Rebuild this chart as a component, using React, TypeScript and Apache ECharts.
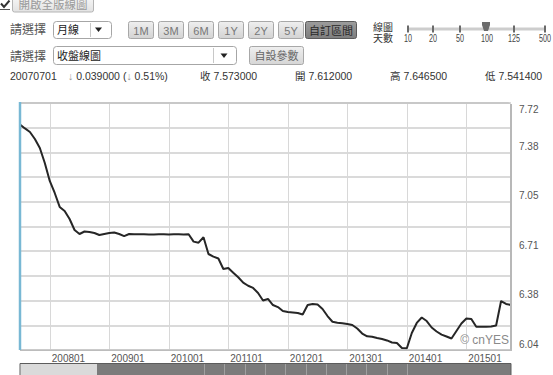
import React, { useEffect, useRef } from "react";
import * as echarts from "echarts";

const START_YEAR = 2007;
const START_MONTH = 7;
const MONTH_COUNT = 100;
const MONTHS: string[] = [];
for (let k = 0; k < MONTH_COUNT; k++) {
  const m = START_MONTH - 1 + k;
  const y = START_YEAR + Math.floor(m / 12);
  const mm = (m % 12) + 1;
  MONTHS.push(`${y}${mm < 10 ? "0" + mm : mm}`);
}

const CLOSE: number[] = [
  7.573, 7.547, 7.523, 7.475, 7.414, 7.312, 7.19, 7.108, 7.013, 6.985,
  6.931, 6.856, 6.829, 6.846, 6.843, 6.836, 6.822, 6.829, 6.836, 6.839,
  6.829, 6.815, 6.829, 6.828, 6.827, 6.827, 6.826, 6.826, 6.827, 6.827,
  6.826, 6.827, 6.827, 6.826, 6.827, 6.777, 6.77, 6.807, 6.693, 6.675,
  6.662, 6.591, 6.598, 6.566, 6.535, 6.498, 6.477, 6.462, 6.428, 6.377,
  6.387, 6.346, 6.332, 6.305, 6.298, 6.295, 6.292, 6.281, 6.346, 6.353,
  6.349, 6.319, 6.271, 6.232, 6.226, 6.222, 6.217, 6.21, 6.186, 6.152,
  6.133, 6.13, 6.122, 6.115, 6.105, 6.091, 6.088, 6.054, 6.052, 6.156,
  6.224, 6.261, 6.237, 6.193, 6.166, 6.145, 6.132, 6.118, 6.169, 6.22,
  6.254, 6.251, 6.198, 6.198, 6.198, 6.2, 6.207, 6.373, 6.353, 6.346,
];

const Y_MIN = 6.04;
const Y_MAX = 7.72;
const Y_STEP = 0.168;

const HEAD_DATE = "20070701";
const HEAD_CHANGE = "0.039000";
const HEAD_PCT = "0.51%";
const HEAD_FIELDS: string[] = ["收 7.573000", "開 7.612000", "高 7.646500", "低 7.541400"];
const RANGE_BUTTONS: string[] = ["1M", "3M", "6M", "1Y", "2Y", "5Y"];
const SLIDER_LABELS: string[] = ["10", "20", "50", "100", "125", "500"];
const SLIDER_ACTIVE = "100";

const FONT = '"Liberation Sans", "Noto Sans CJK TC", sans-serif';

function txt(x: number, y: number, text: string, size: number, fill: string, align = "left", extra: any = {}, el: any = {}) {
  return {
    type: "text",
    x,
    y,
    z: 30,
    ...el,
    style: {
      text,
      fontSize: size,
      fontFamily: FONT,
      fill,
      align,
      verticalAlign: "middle",
      textAlign: align,
      textVerticalAlign: "middle",
      ...extra,
    },
  };
}

function grad(a: string, b: string) {
  return new echarts.graphic.LinearGradient(0, 0, 0, 1, [
    { offset: 0, color: a },
    { offset: 1, color: b },
  ]);
}

function rect(x: number, y: number, w: number, h: number, fill: any, stroke: string | null, r = 2, z = 25) {
  return {
    type: "rect",
    z,
    shape: { x, y, width: w, height: h, r },
    style: { fill, stroke: stroke || undefined, lineWidth: 1 },
  };
}

function arrow(cx: number, cy: number) {
  return {
    type: "polygon",
    z: 30,
    shape: { points: [[cx - 3.5, cy - 2], [cx + 3.5, cy - 2], [cx, cy + 2.5]] },
    style: { fill: "#222" },
  };
}

function buildGraphics() {
  const g: any[] = [];
  g.push({
    type: "polyline",
    z: 30,
    shape: { points: [[1, 3.5], [4, 7], [9.5, 0.5]] },
    style: { stroke: "#333", lineWidth: 2, fill: null },
  });
  g.push({ type: "line", z: 30, shape: { x1: 0, y1: 9.5, x2: 10, y2: 9.5 }, style: { stroke: "#555", lineWidth: 1 } });
  g.push(rect(12.5, -3.5, 81, 15.5, grad("#f7f7f7", "#e2e2e2"), "#b4b4b4", 2));
  g.push(txt(53, 5, "開啟全版線圖", 11.5, "#9a9a9a", "center"));

  g.push(txt(10, 30, "請選擇", 12, "#555"));
  g.push(rect(53.5, 21.5, 58, 17, "#fff", "#a6a6a6", 3));
  g.push({ type: "line", z: 30, shape: { x1: 90.5, y1: 23, x2: 90.5, y2: 37 }, style: { stroke: "#c8c8c8" } });
  g.push(txt(57, 30, "月線", 11, "#222"));
  g.push(arrow(98.5, 29.5));
  RANGE_BUTTONS.forEach((b, k) => {
    const x = 128.5 + k * 30;
    g.push(rect(x, 21.5, 25, 17, grad("#efefef", "#d3d3d3"), "#a8a8a8", 2));
    g.push(txt(x + 12.5, 30.5, b, 11, "#777", "center"));
  });
  g.push(rect(305.5, 21.5, 51, 17, grad("#9c9c9c", "#7e7e7e"), "#5a5a5a", 2));
  g.push(txt(331, 30.5, "自訂區間", 11, "#2a2a2a", "center"));

  g.push(txt(373, 27.5, "線圖", 10, "#333", "left", { lineHeight: 10 }));
  g.push(txt(373, 38, "天數", 10, "#333", "left", { lineHeight: 10 }));
  const sx = [408, 433, 460, 487, 514, 545];
  g.push(rect(407, 27.5, 139, 3, "#cdcdcd", null, 0));
  SLIDER_LABELS.forEach((l, k) => {
    if (l !== SLIDER_ACTIVE) g.push(rect(sx[k] - 1, 25.5, 2, 7, "#6a6a6a", null, 0));
    g.push(txt(sx[k], 38.5, l, 10, "#444", "center", { lineHeight: 10 }, { scaleX: 0.72 }));
  });
  const tx = sx[SLIDER_LABELS.indexOf(SLIDER_ACTIVE)] - 1;
  g.push({
    type: "polygon",
    z: 31,
    shape: { points: [[tx - 4, 22], [tx + 4, 22], [tx + 4, 25], [tx + 2, 31], [tx - 2, 31], [tx - 4, 25]] },
    style: { fill: "#6c6c6c" },
  });

  g.push(txt(10, 56.5, "請選擇", 12, "#555"));
  g.push(rect(53.5, 46.5, 183, 18, "#fff", "#a6a6a6", 3));
  g.push({ type: "line", z: 30, shape: { x1: 213.5, y1: 48, x2: 213.5, y2: 63 }, style: { stroke: "#c8c8c8" } });
  g.push(txt(57, 56, "收盤線圖", 11, "#222"));
  g.push(arrow(224, 55.5));
  g.push(rect(249.5, 46.5, 54, 18, grad("#efefef", "#d6d6d6"), "#a8a8a8", 2));
  g.push(txt(276.5, 55.5, "自設參數", 11, "#666", "center"));

  g.push(txt(10, 76, HEAD_DATE, 10.5, "#333"));
  g.push(
    txt(68, 76, `{a|↓} ${HEAD_CHANGE} ({a|↓} ${HEAD_PCT})`, 10.5, "#333", "left", {
      rich: { a: { fill: "#999", fontSize: 10.5, fontFamily: FONT } },
    })
  );
  HEAD_FIELDS.forEach((f, k) => g.push(txt(200 + k * 95, 76, f, 10.5, "#333")));

  // plot frame
  g.push({ type: "rect", z: 40, shape: { x: 20, y: 102, width: 490, height: 2, r: [0, 2, 0, 0] }, style: { fill: "#c8c8c8" } });
  g.push({ type: "line", z: 41, shape: { x1: 20, y1: 102, x2: 20, y2: 350 }, style: { stroke: "#78b8d4", lineWidth: 2.5 } });
  g.push({ type: "line", z: 40, shape: { x1: 511, y1: 104, x2: 511, y2: 351 }, style: { stroke: "#b8b8b8", lineWidth: 2 } });
  g.push({ type: "rect", z: 40, shape: { x: 20, y: 349.5, width: 492, height: 1.5 }, style: { fill: "#bcbcbc" } });

  g.push(txt(509, 340, "© cnYES", 12, "#8a8a8a", "right"));

  g.push(rect(20, 363.5, 491, 13, "#7b7b7b", "#5c5c5c", 0));
  g.push(rect(20.5, 364, 76.5, 12, "#dadada", null, 0));
  for (let k = 0; k < 11; k++) {
    const x = Math.round(204 + k * 20.3) + 0.5;
    g.push({ type: "line", z: 30, shape: { x1: x, y1: 364, x2: x, y2: 376 }, style: { stroke: "#a0a0a0", lineWidth: 1 } });
  }
  return g;
}

export default function App() {
  const ref = useRef<HTMLDivElement>(null);
  useEffect(() => {
    if (!ref.current) return;
    const chart = echarts.init(ref.current, undefined, { renderer: "svg" });
    const isJan = (_i: number, v: string) => String(v).slice(4) === "01";
    chart.setOption({
      animation: false,
      backgroundColor: "#fff",
      grid: { left: 20, top: 103, width: 491, height: 247, show: false, containLabel: false },
      xAxis: {
        type: "category",
        data: MONTHS,
        boundaryGap: false,
        axisLine: { show: false },
        axisTick: { show: false },
        splitLine: { show: true, interval: isJan, lineStyle: { color: "#d8d8d8", width: 1, type: "solid" } },
        axisLabel: { interval: isJan, align: "left", padding: [0, 0, 0, 2], margin: 3, color: "#555", fontSize: 10, fontFamily: FONT },
      },
      yAxis: {
        type: "value",
        position: "right",
        min: Y_MIN,
        max: Y_MAX,
        interval: Y_STEP,
        axisLine: { show: false },
        axisTick: { show: false },
        splitLine: { show: true, lineStyle: { color: "#cecece", width: 1.5, type: "solid" } },
        axisLabel: {
          margin: 8,
          color: "#555",
          fontSize: 10,
          fontFamily: FONT,
          formatter: (v: number) => {
            const idx = Math.round((v - Y_MIN) / Y_STEP);
            if (idx % 2 !== 0) return "";
            const s = v.toFixed(2);
            return idx === Math.round((Y_MAX - Y_MIN) / Y_STEP) ? `{t|${s}}` : `{b|${s}}`;
          },
          rich: {
            t: { padding: [13, 0, 0, 0], fontSize: 10, color: "#555", fontFamily: FONT },
            b: { padding: [0, 0, 12, 0], fontSize: 10, color: "#555", fontFamily: FONT },
          },
        },
      },
      series: [{ type: "line", data: CLOSE, symbol: "none", z: 5, lineStyle: { color: "#262626", width: 2 } }],
      graphic: { elements: buildGraphics() },
    });
    return () => chart.dispose();
  }, []);
  return <div ref={ref} style={{ position: "fixed", left: 0, top: 0, width: 553, height: 375, background: "#fff" }} />;
}
